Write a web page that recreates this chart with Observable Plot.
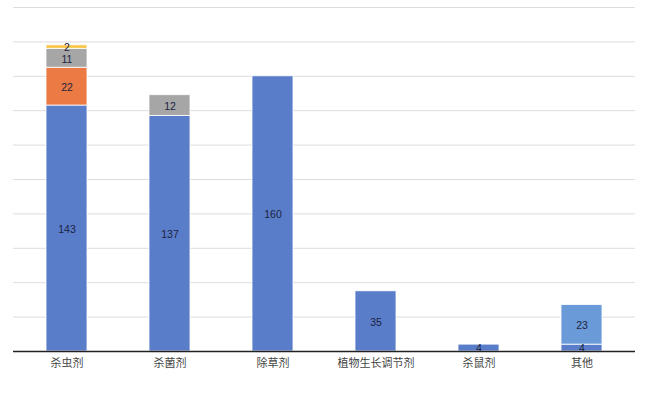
<!DOCTYPE html>
<html>
<head>
<meta charset="utf-8">
<script src="https://cdn.jsdelivr.net/npm/d3@7"></script>
<script src="https://cdn.jsdelivr.net/npm/@observablehq/plot@0.6"></script>
<style>
  html, body { margin: 0; padding: 0; background: #fff; }
  #chart svg { display: block; }
</style>
</head>
<body>
<div id="chart"></div>
<script>
const categories = ["杀虫剂", "杀菌剂", "除草剂", "植物生长调节剂", "杀鼠剂", "其他"];
const seriesNames = ["系列1", "系列2", "系列3", "系列4", "系列5"];
const series1 = [143, 137, 160, 35, 4, 4];
const series2 = [22, 0, 0, 0, 0, 0];
const series3 = [11, 12, 0, 0, 0, 0];
const series4 = [2, 0, 0, 0, 0, 0];
const series5 = [0, 0, 0, 0, 0, 23];
const seriesColors = ["#5a7dca", "#ec7a45", "#a6a6a6", "#f7c444", "#6b9ad8"];
const yTicks = [0, 20, 40, 60, 80, 100, 120, 140, 160, 180, 200];

const allSeries = [series1, series2, series3, series4, series5];
const data = [];
allSeries.forEach((vals, si) => {
  vals.forEach((v, ci) => {
    if (v > 0) data.push({category: categories[ci], series: seriesNames[si], value: v});
  });
});

const chart = Plot.plot({
  width: 649,
  height: 400,
  marginTop: 7,
  marginBottom: 49,
  marginLeft: 13,
  marginRight: 14,
  style: {fontFamily: "'Liberation Sans', 'Noto Sans CJK SC', sans-serif", fontSize: "11px", background: "#fff"},
  x: {domain: categories, paddingInner: 0.6, paddingOuter: 0.3, label: null, tickSize: 0, tickPadding: 8},
  y: {domain: [0, 200], ticks: yTicks, axis: null},
  color: {domain: seriesNames, range: seriesColors},
  marks: [
    Plot.ruleY(yTicks.filter(d => d > 0), {stroke: "#dcdcdc", strokeWidth: 1}),
    Plot.barY(data, Plot.stackY({x: "category", y: "value", fill: "series", z: "series", order: seriesNames, stroke: "white", strokeWidth: 0.8})),
    Plot.text(data, Plot.stackY({
      x: "category", y: "value", z: "series", order: seriesNames, text: "value",
      fill: "#1c2440", fontSize: 10.5, dy: 1
    })),
    Plot.ruleY([0], {stroke: "#222", strokeWidth: 1.5}),
    Plot.axisX({tickSize: 0, tickPadding: 8, fill: "#444", fontSize: 11, label: null,
      fontFamily: "'Noto Sans CJK SC', sans-serif"})
  ]
});
document.getElementById("chart").appendChild(chart);
</script>
</body>
</html>
